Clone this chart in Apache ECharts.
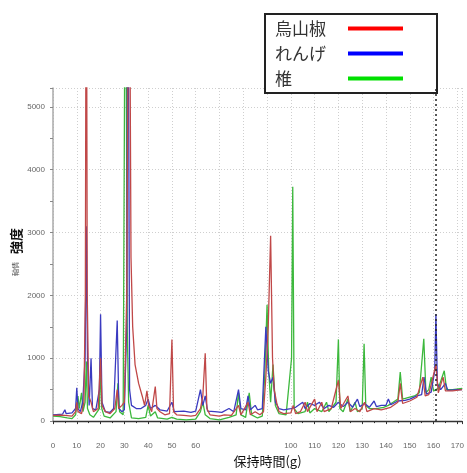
<!DOCTYPE html>
<html><head><meta charset="utf-8">
<script src="https://cdn.jsdelivr.net/npm/echarts@6/dist/echarts.min.js"></script>
<style>html,body{margin:0;padding:0;background:#fff}#c{width:467px;height:473px}</style>
</head><body><div id="c"></div>
<script>
const seriesNames = ['烏山椒', 'れんげ', '椎'];
const legendColors = ['#ff0000', '#0000ff', '#00e000'];
const lineColors = ['#c04848', '#3a3ac0', '#3cb83c'];
const xTicks = [0,10,20,30,40,50,60,100,110,120,130,140,150,160,170];
const markerTime = 161;

const redTimes = [0,3,5,8,9.5,10,10.5,12,13,13.6,14,14.4,15,16,17,19,20,20.6,22,24,26,27,27.6,29,30,31,32,32.8,33.5,34.5,36,37.5,38.5,39.5,40.2,41.5,43,43.7,45,47,49,50,50.7,52,55,58,60,62,63,64,64.7,66,70,72,75,78,79,82,83,85,87,88.5,89.5,90.5,91.5,92.3,93,94,95,97,100,101,102,104,106,107,110,111,113,114,117,120,121,124,125,127,129,131,132,135,138,140,142,145,146,147,150,153,155.5,156.5,158,161,162,164,165,168,172];
const redValues = [90,95,90,80,150,300,150,120,300,2000,9000,2000,400,300,150,200,1000,250,150,120,200,500,200,250,300,2000,9000,2600,1500,900,600,400,250,480,250,150,550,200,150,100,120,1300,150,100,90,80,90,200,400,1080,200,100,80,100,90,250,100,300,100,150,100,150,700,1500,2950,1000,500,300,150,120,130,250,120,150,300,150,350,150,300,150,200,650,200,400,150,200,150,300,150,200,180,200,220,300,600,280,320,380,700,400,420,900,450,700,480,480,500];

const blueTimes = [0,4,5,5.5,8,9.5,10,10.5,11.5,12.5,13.5,14,14.5,15.2,16,16.6,18,19.5,20,20.6,22,24,25.5,27,27.7,29,30,31,31.5,32.2,33,35,37,39,40,41,43,45,48,50,51,55,58,60,62,63,64,65,68,71,74,76,78,79,81,82,83,85,86,88,89.5,90.5,91.5,92.5,93.5,95,97,100,102,105,106,108,110,112,114,116,118,120,122,124,126,128,129,131,133,135,136,138,140,141,142,145,148,150,153,155,156,157,159,160.5,161,161.6,163,165,166,170,172];
const blueValues = [100,110,180,120,130,200,530,200,150,300,1000,3100,1000,250,1000,200,180,500,1700,300,150,140,200,1600,200,150,180,1500,9000,500,250,200,200,250,350,200,250,180,160,300,150,160,140,160,500,250,400,160,150,140,200,150,500,200,180,400,180,250,180,200,1500,800,600,700,300,200,180,200,220,300,200,280,250,300,200,250,220,300,230,300,220,350,230,280,220,320,230,250,250,350,260,320,330,350,400,420,700,430,460,800,1700,600,500,600,490,500,500];

const greenTimes = [0,3,6,8,9.5,10.5,11,12,12.6,13.5,14,14.5,15.5,17,19.5,20,20.5,21.5,24,26.5,27.3,28,29.5,30.5,31.2,31.8,33,36,39,40,41,43,44,48,50,52,56,60,62,63,64,66,70,74,77,78,79,81,82.5,83.5,86,88,89,90,90.7,91.5,92.5,93.5,95,98,100.3,100.8,101.4,103,106,107,108,110,113,115,116,119,120,120.6,122,124,125,127,128,130,130.8,131.5,133,136,139,141,143,145,146,147,150,152,154,155.9,156.8,158,159,160,162,164.5,165.5,168,172];
const greenValues = [80,70,50,40,100,400,200,450,150,300,950,200,100,60,200,900,200,80,50,150,600,150,100,9000,1500,300,50,40,60,250,80,150,50,30,60,30,20,30,150,300,100,40,20,60,100,450,100,60,450,100,50,80,700,1850,800,300,900,250,120,100,1000,3730,200,120,150,300,130,200,150,300,150,300,1300,200,150,350,150,300,150,200,1230,250,200,200,220,250,300,350,780,350,380,400,450,1310,450,500,700,480,520,800,500,500,520];

function pairs(t, v) { return t.map((x, i) => [x, v[i]]); }
const dataSets = [pairs(redTimes, redValues), pairs(blueTimes, blueValues), pairs(greenTimes, greenValues)];

const chart = echarts.init(document.getElementById('c'), null, {renderer: 'canvas'});
const series = seriesNames.map((name, i) => ({
  name: name,
  type: 'line',
  data: dataSets[i],
  showSymbol: false,
  symbol: 'none',
  clip: true,
  animation: false,
  lineStyle: {color: lineColors[i], width: 1.3},
  itemStyle: {color: lineColors[i]},
  z: 3 - i
}));
series[0].markLine = {
  silent: true, symbol: 'none', animation: false,
  label: {show: false},
  lineStyle: {color: '#222', type: [2, 3], width: 1.5},
  data: [{xAxis: markerTime}]
};

chart.setOption({
  animation: false,
  backgroundColor: '#fff',
  grid: {left: 53, right: 0, top: 88, bottom: 46, containLabel: false},
  legend: {
    orient: 'vertical', left: 265, top: 14,
    backgroundColor: '#fff', borderColor: '#222', borderWidth: 2, borderRadius: 0,
    padding: [6, 34, 6, 10],
    align: 'right',
    itemWidth: 55, itemHeight: 4, itemGap: 8,
    icon: 'rect',
    formatter: name => '{t|' + name + '}',
    textStyle: {
      fontSize: 17, color: '#333', fontFamily: 'Noto Sans CJK JP',
      rich: {t: {fontSize: 17, color: '#333', width: 68, align: 'left', fontFamily: 'Noto Sans CJK JP'}}
    },
    data: seriesNames.map((n, i) => ({name: n, itemStyle: {color: legendColors[i]}}))
  },
  xAxis: {
    type: 'value', min: 0, max: 172, interval: 10, offset: 15,
    name: '保持時間(g)', nameLocation: 'middle', nameGap: 17,
    nameTextStyle: {fontSize: 13, color: '#111', fontFamily: 'Noto Sans CJK JP', padding: [0, 0, 0, 20]},
    axisLine: {show: true, lineStyle: {color: '#333', width: 1.3}},
    axisTick: {show: true, length: 3, lineStyle: {color: '#333'}},
    minorTick: {show: true, splitNumber: 2, length: 2, lineStyle: {color: '#333'}},
    axisLabel: {
      fontSize: 8, color: '#666', margin: 6, showMaxLabel: false,
      formatter: v => (xTicks.indexOf(v) >= 0 ? String(v) : '')
    },
    splitLine: {show: true, lineStyle: {color: '#cfcfcf', type: [1, 2], width: 1}}
  },
  yAxis: {
    type: 'value', min: 0, max: 5300, interval: 1000,
    axisLine: {show: true, lineStyle: {color: '#aaa', width: 1.5}},
    axisTick: {show: true, length: 3, inside: false, lineStyle: {color: '#888'}},
    minorTick: {show: true, splitNumber: 2, length: 3, lineStyle: {color: '#888'}},
    axisLabel: {fontSize: 8, color: '#666', margin: 8, showMaxLabel: false, formatter: v => String(v)},
    splitLine: {show: true, lineStyle: {color: '#cfcfcf', type: [1, 2], width: 1}}
  },
  graphic: [
    {type: 'text', left: 10, top: 228, rotation: Math.PI / 2,
      style: {text: '強度', fontSize: 13, fontWeight: 'bold', fill: '#111', fontFamily: 'Noto Sans CJK JP'}},
    {type: 'text', left: 12, top: 262, rotation: Math.PI / 2,
      style: {text: '軸情', fontSize: 7, fill: '#555', fontFamily: 'Noto Sans CJK JP'}}
  ],
  series: series
});
</script></body></html>
